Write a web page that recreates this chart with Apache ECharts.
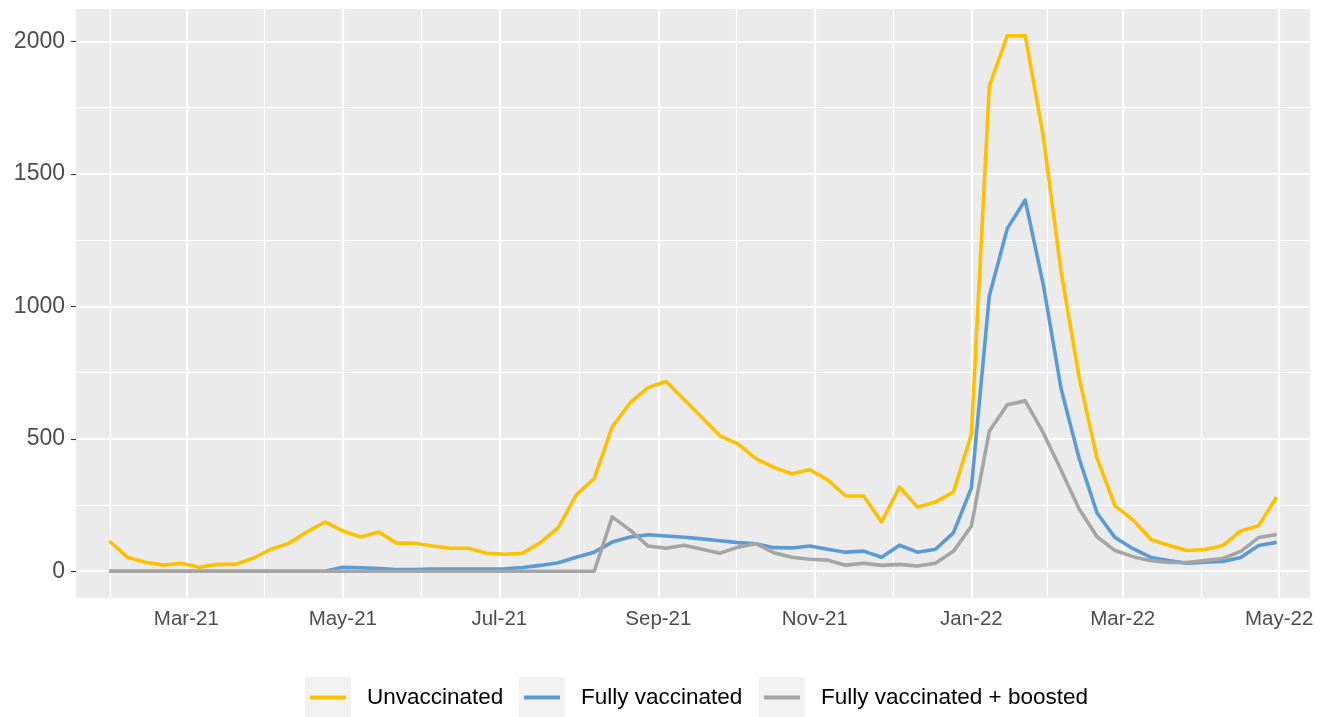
<!DOCTYPE html>
<html>
<head>
<meta charset="utf-8">
<script src="https://cdn.jsdelivr.net/npm/echarts@6/dist/echarts.min.js"></script>
<style>
html,body{margin:0;padding:0;background:#fff;}
#chart{width:1325px;height:717px;}
</style>
</head>
<body>
<div id="chart"></div>
<script>
// ---- data ----
const weeks = [
 '2021-01-30','2021-02-06','2021-02-13','2021-02-20','2021-02-27','2021-03-06','2021-03-13','2021-03-20','2021-03-27',
 '2021-04-03','2021-04-10','2021-04-17','2021-04-24','2021-05-01','2021-05-08','2021-05-15','2021-05-22','2021-05-29',
 '2021-06-05','2021-06-12','2021-06-19','2021-06-26','2021-07-03','2021-07-10','2021-07-17','2021-07-24','2021-07-31',
 '2021-08-07','2021-08-14','2021-08-21','2021-08-28','2021-09-04','2021-09-11','2021-09-18','2021-09-25','2021-10-02',
 '2021-10-09','2021-10-16','2021-10-23','2021-10-30','2021-11-06','2021-11-13','2021-11-20','2021-11-27','2021-12-04',
 '2021-12-11','2021-12-18','2021-12-25','2022-01-01','2022-01-08','2022-01-15','2022-01-22','2022-01-29','2022-02-05',
 '2022-02-12','2022-02-19','2022-02-26','2022-03-05','2022-03-12','2022-03-19','2022-03-26','2022-04-02','2022-04-09',
 '2022-04-16','2022-04-23','2022-04-30'
];
const unvaccinated = [
 114,53,34,23,30,15,26,26,49,83,106,148,186,152,129,148,106,106,95,87,87,68,64,68,108,165,288,350,545,636,693,716,648,
 580,511,481,425,392,368,383,345,284,284,186,318,242,261,299,516,1831,2021,2021,1644,1129,732,426,247,194,120,97,78,82,97,152,172,280
];
const fullyVaccinated = [
 0,0,0,0,0,0,0,0,0,0,0,0,0,15,13,10,6,6,8,8,8,8,9,14,22,32,53,72,110,129,138,133,128,
 122,115,108,104,89,88,95,83,72,76,53,98,72,83,145,314,1039,1293,1401,1084,688,426,220,127,85,52,40,30,34,37,52,97,109
];
const boosted = [
 0,0,0,0,0,0,0,0,0,0,0,0,0,0,0,0,0,0,0,0,0,0,0,0,0,0,0,0,205,155,95,87,98,83,68,91,104,70,53,45,42,23,30,22,26,20,30,
 75,170,528,628,643,523,381,235,130,78,55,40,33,33,40,48,75,127,139
];
const seriesNames = ['Unvaccinated','Fully vaccinated','Fully vaccinated + boosted'];
const xTickDates = ['2021-03-01','2021-05-01','2021-07-01','2021-09-01','2021-11-01','2022-01-01','2022-03-01','2022-05-01'];
const xTickLabels = ['Mar-21','May-21','Jul-21','Sep-21','Nov-21','Jan-22','Mar-22','May-22'];
const xMinorDates = ['2021-01-30T12:00','2021-03-31T12:00','2021-05-31T12:00','2021-08-01T00:00','2021-10-01T12:00','2021-12-01T12:00','2022-01-30T12:00','2022-03-31T12:00'];
const yTicks = [0,500,1000,1500,2000];
const yTickLabels = ['0','500','1000','1500','2000'];
const yMinor = [250,750,1250,1750];

// ---- helpers ----
const DAY = 86400000;
function ts(s){
  const parts = s.split('T');
  const dp = parts[0].split('-').map(Number);
  let h=0, mi=0;
  if (parts[1]){ const tp = parts[1].split(':').map(Number); h=tp[0]; mi=tp[1]; }
  return Date.UTC(dp[0],dp[1]-1,dp[2],h,mi) / DAY;   // days since epoch
}
const xTickTs = xTickDates.map(ts);
const colors = ['#FFC000','#5B9BD5','#A5A5A5'];
const valuesBySeries = [unvaccinated, fullyVaccinated, boosted];

const gridMarks = []
  .concat(xMinorDates.map(d => ({xAxis: ts(d), lineStyle:{width:1.1}})))
  .concat(yMinor.map(v => ({yAxis: v, lineStyle:{width:1.1}})))
  .concat(xTickDates.map(d => ({xAxis: ts(d), lineStyle:{width:2.2}})))
  .concat(yTicks.map(v => ({yAxis: v, lineStyle:{width:2.2}})));

const chart = echarts.init(document.getElementById('chart'), null, {renderer:'canvas'});
const FONT = 'Liberation Sans, Arial, sans-serif';

const series = [{
  type:'line', data:[], silent:true, z:1,
  markLine:{
    silent:true, z:1, symbol:['none','none'], label:{show:false},
    lineStyle:{color:'#FFFFFF', type:'solid'},
    animation:false,
    data: gridMarks
  }
}];
seriesNames.forEach((name,k) => {
  series.push({
    name, type:'line', z: 3+k,
    showSymbol:false, symbol:'none',
    data: weeks.map((w,i) => [ts(w), valuesBySeries[k][i]]),
    lineStyle:{color:colors[k], width:3.6, cap:'butt', join:'round'},
    itemStyle:{color:colors[k]},
    emphasis:{disabled:true}
  });
});

const legendLefts = [310, 524, 764];
const legends = seriesNames.map((name,k) => ({
  data:[name], left: legendLefts[k], top: 686, padding:0, selectedMode:false,
  icon:'rect', itemWidth:36, itemHeight:4,
  textStyle:{fontFamily:FONT, fontSize:22.5, color:'#000', padding:[0,0,0,16]}
}));

chart.setOption({
  animation:false,
  backgroundColor:'#FFFFFF',
  color: colors,
  grid:{left:76, right:15, top:9, bottom:119, show:true, backgroundColor:'#EBEBEB', borderWidth:0},
  xAxis:{
    type:'value', min: ts('2021-01-17'), max: ts('2022-05-13'),
    axisLine:{show:false},
    splitLine:{show:false},
    axisTick:{show:true, customValues: xTickTs, length:5, lineStyle:{color:'#333333', width:1.1}},
    axisLabel:{customValues: xTickTs, color:'#4D4D4D', fontFamily:FONT, fontSize:20.5, margin:11,
      formatter: v => { const i = xTickTs.indexOf(v); return i>=0 ? xTickLabels[i] : ''; }}
  },
  yAxis:{
    type:'value', min:-101, max:2122,
    axisLine:{show:false},
    splitLine:{show:false},
    axisTick:{show:true, customValues: yTicks, length:5, lineStyle:{color:'#333333', width:1.1}},
    axisLabel:{customValues: yTicks, color:'#4D4D4D', fontFamily:FONT, fontSize:23, margin:11,
      formatter: v => { const i = yTicks.indexOf(v); return i>=0 ? yTickLabels[i] : ''; }}
  },
  legend: legends,
  graphic: legendLefts.map(l => ({
    type:'rect', left: l-5, top: 677, z:-1,
    shape:{width:46, height:40}, style:{fill:'#F2F2F2'}, silent:true
  })),
  series
});
</script>
</body>
</html>
